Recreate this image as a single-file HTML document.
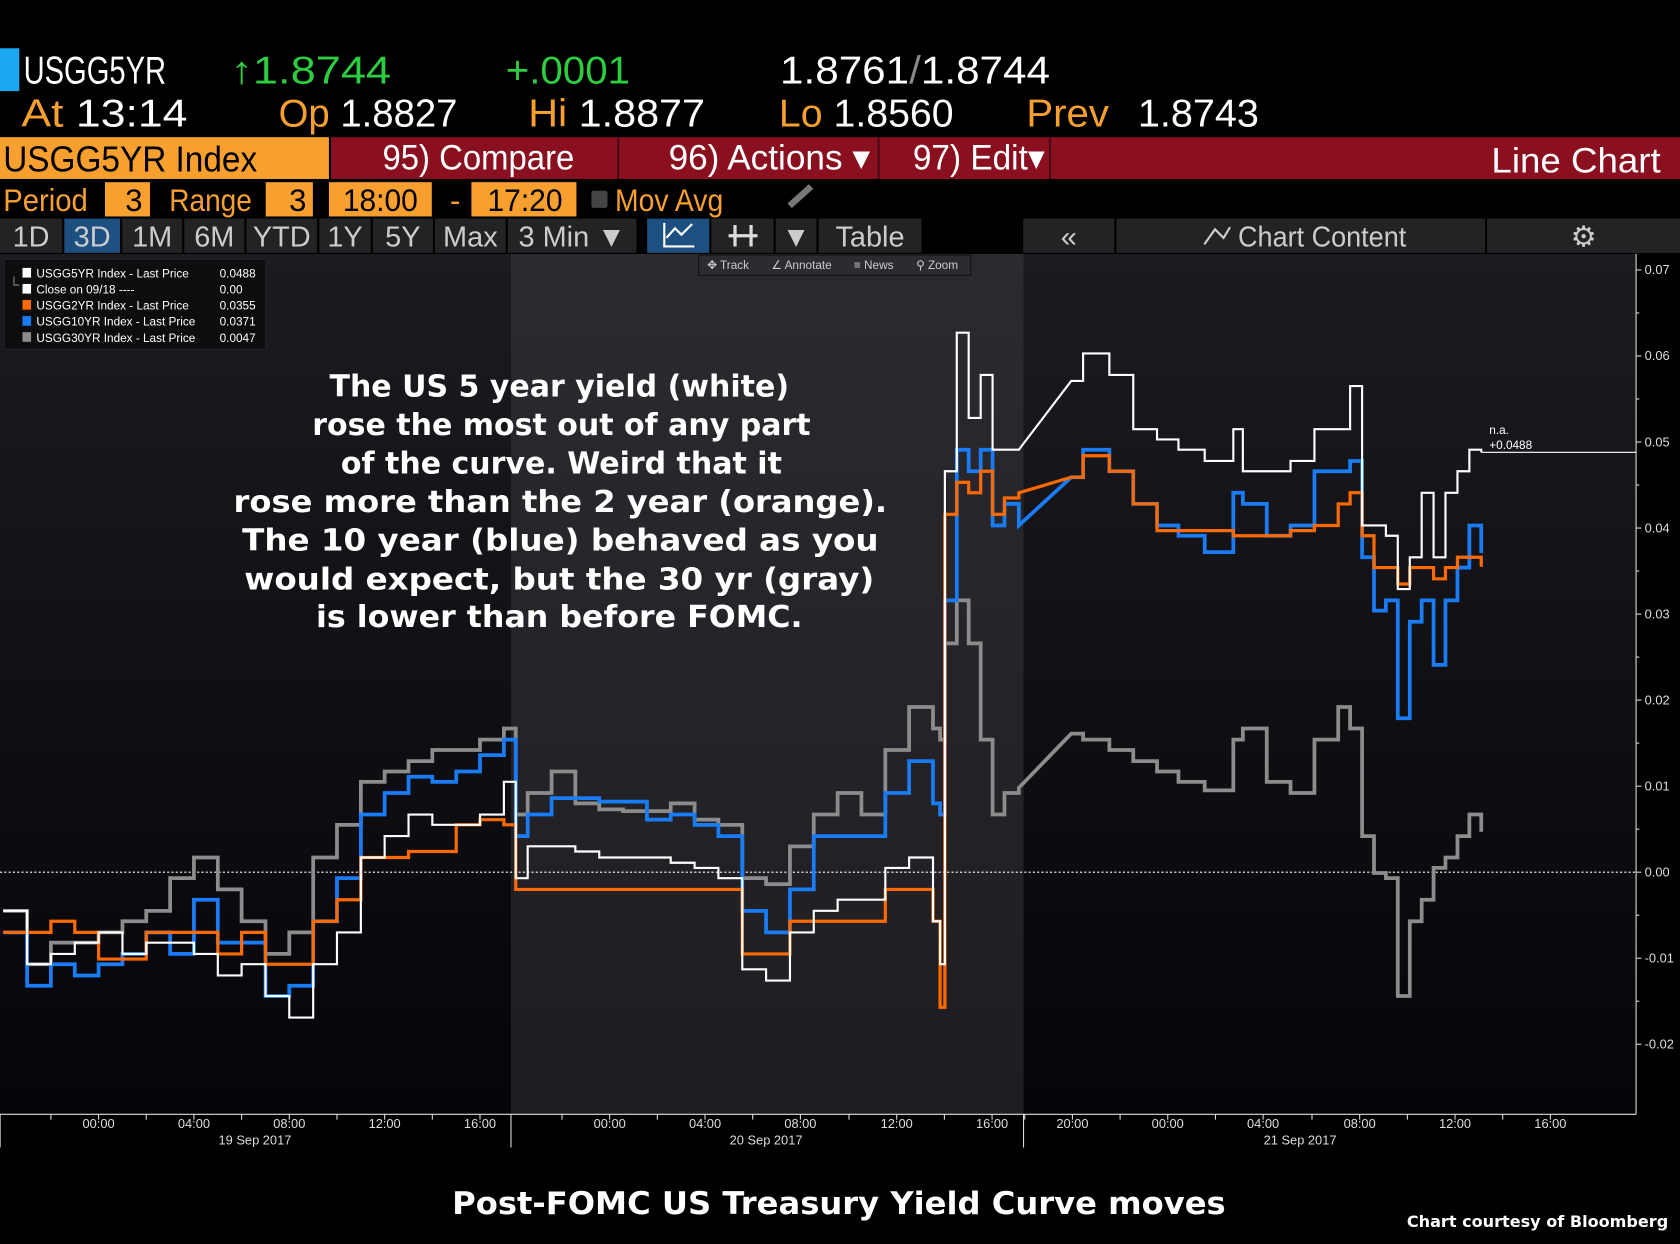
<!DOCTYPE html>
<html><head><meta charset="utf-8"><style>
html,body{margin:0;padding:0;background:#000;}
svg{display:block;}
.n{font-family:"Liberation Sans Narrow","Liberation Sans",sans-serif;}
.b{font-family:"DejaVu Sans","Liberation Sans",sans-serif;font-weight:bold;}
</style></head><body>
<svg id="chart" width="1680" height="1244" viewBox="0 0 1568 1161" xmlns="http://www.w3.org/2000/svg">
<defs>
<linearGradient id="gOut" x1="0" y1="0" x2="0" y2="1"><stop offset="0" stop-color="#1c1b20"/><stop offset="1" stop-color="#050408"/></linearGradient>
<linearGradient id="gMid" x1="0" y1="0" x2="0" y2="1"><stop offset="0" stop-color="#2b2a2f"/><stop offset="1" stop-color="#1e1d22"/></linearGradient>
</defs>
<rect x="0" y="0" width="1568" height="1161" fill="#000"/>
<g class="n" lengthAdjust="spacingAndGlyphs">
<rect x="0" y="45" width="18" height="40" fill="#1aa9f0"/>
<text x="22" y="78" font-size="36" fill="#fff" textLength="133" lengthAdjust="spacingAndGlyphs">USGG5YR</text>
<text x="215" y="78" font-size="36" fill="#2ecc40" textLength="150" lengthAdjust="spacingAndGlyphs">↑1.8744</text>
<text x="472" y="78" font-size="36" fill="#2ecc40" textLength="116" lengthAdjust="spacingAndGlyphs">+.0001</text>
<text x="728" y="78" font-size="36" fill="#fff" textLength="252" lengthAdjust="spacingAndGlyphs">1.8761<tspan fill="#888">/</tspan>1.8744</text>
<text x="20" y="118" font-size="36" fill="#f7a030" textLength="155" lengthAdjust="spacingAndGlyphs">At <tspan fill="#fff">13:14</tspan></text>
<text x="260" y="118" font-size="36" fill="#f7a030" textLength="167" lengthAdjust="spacingAndGlyphs">Op <tspan fill="#fff">1.8827</tspan></text>
<text x="493" y="118" font-size="36" fill="#f7a030" textLength="165" lengthAdjust="spacingAndGlyphs">Hi <tspan fill="#fff">1.8877</tspan></text>
<text x="727" y="118" font-size="36" fill="#f7a030" textLength="163" lengthAdjust="spacingAndGlyphs">Lo <tspan fill="#fff">1.8560</tspan></text>
<text x="958" y="118" font-size="36" fill="#f7a030" textLength="77" lengthAdjust="spacingAndGlyphs">Prev</text>
<text x="1062" y="118" font-size="36" fill="#fff" textLength="113" lengthAdjust="spacingAndGlyphs">1.8743</text>
</g>
<g class="n">
<rect x="0" y="128" width="307" height="39" fill="#f7a030"/>
<text x="3" y="160" font-size="34" fill="#000" textLength="237" lengthAdjust="spacingAndGlyphs">USGG5YR Index</text>
<rect x="309" y="128" width="1259" height="39" fill="#8a1020"/>
<line x1="577" y1="128" x2="577" y2="167" stroke="#4a0810" stroke-width="2"/>
<line x1="820" y1="128" x2="820" y2="167" stroke="#4a0810" stroke-width="2"/>
<line x1="980" y1="128" x2="980" y2="167" stroke="#4a0810" stroke-width="2"/>
<text x="357" y="158" font-size="33" fill="#fff" textLength="179" lengthAdjust="spacingAndGlyphs">95) Compare</text>
<text x="624" y="158" font-size="33" fill="#fff" textLength="188" lengthAdjust="spacingAndGlyphs">96) Actions ▾</text>
<text x="852" y="158" font-size="33" fill="#fff" textLength="123" lengthAdjust="spacingAndGlyphs">97) Edit▾</text>
<text x="1392" y="161" font-size="33" fill="#fff" textLength="158" lengthAdjust="spacingAndGlyphs">Line Chart</text>
</g>
<g class="n" font-size="29">
<text x="3" y="197" fill="#f7a030" textLength="79" lengthAdjust="spacingAndGlyphs">Period</text>
<rect x="98" y="170" width="42" height="32" fill="#f7a030"/>
<text x="133" y="197" fill="#000" text-anchor="end">3</text>
<text x="158" y="197" fill="#f7a030" textLength="77" lengthAdjust="spacingAndGlyphs">Range</text>
<rect x="248" y="170" width="44" height="32" fill="#f7a030"/>
<text x="286" y="197" fill="#000" text-anchor="end">3</text>
<rect x="307" y="170" width="96" height="32" fill="#f7a030"/>
<text x="320" y="197" fill="#000" textLength="70" lengthAdjust="spacingAndGlyphs">18:00</text>
<text x="420" y="197" fill="#f7a030">-</text>
<rect x="440" y="170" width="98" height="32" fill="#f7a030"/>
<text x="455" y="197" fill="#000" textLength="70" lengthAdjust="spacingAndGlyphs">17:20</text>
<rect x="552" y="178" width="15" height="16" fill="#444" rx="2"/>
<text x="574" y="197" fill="#f7a030" textLength="101" lengthAdjust="spacingAndGlyphs">Mov Avg</text>
<line x1="737" y1="192" x2="757" y2="174" stroke="#777" stroke-width="6"/>
</g>
<g class="n" font-size="27" fill="#ccc" id="toolbar"></g>
<g id="plot"></g>
<g class="b" font-size="28" fill="#fff" text-anchor="middle">
<text x="522" y="370">The US 5 year yield (white)</text>
<text x="524" y="406">rose the most out of any part</text>
<text x="524" y="442">of the curve.  Weird that it</text>
<text x="523" y="478" textLength="610" lengthAdjust="spacingAndGlyphs">rose more than the 2 year (orange).</text>
<text x="523" y="514" textLength="594" lengthAdjust="spacingAndGlyphs">The 10 year (blue) behaved as you</text>
<text x="522" y="550" textLength="588" lengthAdjust="spacingAndGlyphs">would expect, but the 30 yr (gray)</text>
<text x="522" y="585" textLength="454" lengthAdjust="spacingAndGlyphs">is lower than before FOMC.</text>
</g>
<text class="b" x="783" y="1133" font-size="29" fill="#fff" text-anchor="middle" textLength="722" lengthAdjust="spacingAndGlyphs">Post-FOMC US Treasury Yield Curve moves</text>
<text class="b" x="1557" y="1145" font-size="15" fill="#fff" text-anchor="end">Chart courtesy of Bloomberg</text>
</svg>
<script>
const times=[-4,-3,-2,-1,0,1,2,3,4,5,6,7,8,9,10,11,12,13,14,15,16,17,17.5,18,19,20,21,22,23,24,25,26,27,28,29,30,31,32,33,34,35,35.3,35.5,36,36.5,37,37.5,38,38.6,40.8,41.3,42.4,43.4,44.4,45.3,46.4,47.6,48,49,50,51,52,52.5,53,53.5,54,54.5,55,55.5,56,56.5,57,57.5,58];
// values in units of 0.0001 (change since 09/18 close)
const usgg30yr=[-45,-107,-82,-82,-70,-57,-45,-7,17,-20,-57,-95,-70,17,55,105,117,129,142,142,154,167,67,92,117,80,73,71,71,80,61,55,-7,-14,30,67,92,67,142,192,167,154,266,316,266,154,67,92,98,161,154,142,129,117,105,95,154,167,105,92,154,192,167,42,-1,-7,-144,-57,-32,5,17,42,67,47];
const usgg10yr=[-70,-132,-107,-120,-107,-95,-70,-95,-32,-82,-82,-144,-132,-57,-7,67,92,111,105,117,136,154,42,67,86,86,82,82,61,67,55,42,-45,-70,-20,42,42,42,92,129,80,67,316,491,466,491,403,428,403,459,491,466,428,403,391,372,441,428,391,403,466,466,478,366,304,316,179,291,316,241,316,354,403,371];
const usgg2yr=[-70,-70,-57,-70,-101,-101,-70,-70,-70,-95,-70,-107,-107,-57,-32,17,17,24,24,55,61,55,-20,-20,-20,-20,-20,-20,-20,-20,-20,-20,-95,-95,-57,-57,-57,-57,-20,-20,-57,-157,416,453,441,466,416,435,441,459,484,466,428,397,397,397,391,391,391,397,403,428,441,391,354,354,335,354,354,341,354,366,366,355];
const usgg5yr=[-45,-107,-95,-82,-70,-95,-82,-82,-95,-120,-107,-144,-169,-107,-70,17,42,67,55,55,67,105,-7,30,30,24,17,17,17,11,5,-7,-113,-126,-70,-45,-32,-32,5,17,-57,-107,466,627,528,578,491,491,491,571,603,578,515,503,491,478,515,466,466,478,515,515,565,403,403,391,329,366,441,366,441,466,491,488];
const yTicks=[-200,-100,0,100,200,300,400,500,600,700];
const yTickLabels=["-0.02","-0.01","0.00","0.01","0.02","0.03","0.04","0.05","0.06","0.07"];
const xTicks=[0,4,8,12,16,21.44,25.44,29.44,33.48,37.48,40.85,44.85,48.85,52.9,56.9,60.9];
const xTickLabels=["00:00","04:00","08:00","12:00","16:00","00:00","04:00","08:00","12:00","16:00","20:00","00:00","04:00","08:00","12:00","16:00"];
const dayBounds=[-4.13,17.3,38.8];
const dateLabelPos=[6.56,28,50.4];
const dateLabels=["19 Sep 2017","20 Sep 2017","21 Sep 2017"];
const legendNames=["USGG5YR Index - Last Price","Close on 09/18 ----","USGG2YR Index - Last Price","USGG10YR Index - Last Price","USGG30YR Index - Last Price"];
const legendValues=["0.0488","0.00","0.0355","0.0371","0.0047"];

const NS="http://www.w3.org/2000/svg";
const X=t=>92+22.25*t;
const Y=v=>814-v*0.803;
function mk(tag,attrs,parent,txt){const e=document.createElementNS(NS,tag);for(const k in attrs)e.setAttribute(k,attrs[k]);if(txt!==undefined)e.textContent=txt;parent.appendChild(e);return e;}
const plot=document.getElementById('plot');
let bg=mk('rect',{x:0,y:237,width:1527,height:803,fill:'url(#gOut)'},plot);


let sh=mk('rect',{x:X(dayBounds[1]),y:237,width:X(dayBounds[2])-X(dayBounds[1]),height:803,fill:'url(#gMid)'},plot);


mk('line',{x1:1527,y1:237,x2:1527,y2:1040,stroke:'#ddd','stroke-width':1},plot);
yTicks.forEach((v,i)=>{
  mk('line',{x1:1527,y1:Y(v),x2:1532,y2:Y(v),stroke:'#ddd'},plot);
  const t=mk('text',{x:1535,y:Y(v)+4,fill:'#ddd','font-size':12,class:'n'},plot,yTickLabels[i]);
  
  
  if(i<yTicks.length-1){const m=(v+yTicks[i+1])/2;mk('line',{x1:1527,y1:Y(m),x2:1530,y2:Y(m),stroke:'#ddd'},plot);}
});
mk('line',{x1:0,y1:1040,x2:1527,y2:1040,stroke:'#ddd'},plot);
xTicks.forEach((t,i)=>{
  mk('line',{x1:X(t),y1:1040,x2:X(t),y2:1045,stroke:'#ddd'},plot);
  mk('line',{x1:X(t)-44.5,y1:1040,x2:X(t)-44.5,y2:1045,stroke:'#ddd'},plot);
  const l=mk('text',{x:X(t),y:1053,fill:'#ddd','font-size':12,class:'n','text-anchor':'middle'},plot,xTickLabels[i]);
  
  
});
dayBounds.forEach(t=>{mk('line',{x1:X(t),y1:1040,x2:X(t),y2:1071,stroke:'#ddd'},plot);});
dateLabels.forEach((d,i)=>{
  const l=mk('text',{x:X(dateLabelPos[i]),y:1068,fill:'#ddd','font-size':12,class:'n','text-anchor':'middle'},plot,d);
  
  
});
const cl=mk('line',{x1:0,y1:Y(0),x2:1527,y2:Y(0),stroke:'#fff','stroke-dasharray':'2,2','stroke-width':1},plot);


function series(vals,color,w,name){
  let d='';
  vals.forEach((v,i)=>{
    const x=X(times[i]).toFixed(1),y=Y(v).toFixed(1);
    if(i===0)d+='M'+x+' '+y;
    else{
      if(times[i]-times[i-1]>1.5)d+=' L'+x+' '+y;
      else d+=' H'+x+' V'+y;
    }
  });
  const p=mk('path',{d:d,fill:'none',stroke:color,'stroke-width':w,'stroke-linejoin':'miter'},plot);
  
  
}
series(usgg30yr,'#8c8c8c',3.5,'usgg30yr-line');
series(usgg10yr,'#1a7cf5',3.5,'usgg10yr-line');
series(usgg2yr,'#ff6a00',3,'usgg2yr-line');
series(usgg5yr,'#ffffff',2,'usgg5yr-line');
const last=usgg5yr[usgg5yr.length-1];
const ll=mk('line',{x1:X(times[times.length-1]),y1:Y(last),x2:1527,y2:Y(last),stroke:'#fff','stroke-width':1},plot);


mk('text',{x:1390,y:Y(last)-17,fill:'#fff','font-size':11,class:'n'},plot,'n.a.');
const lv=mk('text',{x:1390,y:Y(last)-3,fill:'#fff','font-size':11,class:'n'},plot,'+'+(last/10000).toFixed(4));


const tb=mk('g',{},plot);


mk('rect',{x:652,y:238,width:254,height:19,fill:'#2c2c30',stroke:'#111'},tb);
[['✥ Track',660],['∠ Annotate',720],['≡ News',797],['⚲ Zoom',855]].forEach(([s,x])=>{
  const t=mk('text',{x:x,y:251,fill:'#ccc','font-size':11,class:'n'},tb,s);
  
  
});
const lg=mk('g',{},plot);


mk('rect',{x:4,y:242,width:244,height:84,fill:'#0d0d10',stroke:'#222',rx:2},lg);
const lc=['#fff','#fff','#ff6a00','#1a7cf5','#8c8c8c'];
legendNames.forEach((n,i)=>{
  const y=256+i*15;
  const e=mk('g',{},lg);
  
  
  mk('rect',{x:21,y:y-6,width:8,height:9,fill:lc[i]},e);
  mk('text',{x:34,y:y+3,fill:'#fff','font-size':11,class:'n'},e,n);
  mk('text',{x:205,y:y+3,fill:'#fff','font-size':11,class:'n'},e,legendValues[i]);
});
mk('path',{d:'M13 258 V266 H18',fill:'none',stroke:'#888'},lg);
const tbar=document.getElementById('toolbar');
const btns=[['1D',0,58],['3D',60,112,1],['1M',114,170],['6M',172,228],['YTD',230,296],['1Y',298,346],['5Y',348,404],['Max',406,472],['3 Min ▼',474,594],['',604,662,1],['',664,722],['▼',724,762],['Table',764,860],['«',955,1040],['Chart Content',1042,1386],['⚙',1388,1568]];
btns.forEach(b=>{
  const g=mk('g',{},tbar);
  
  
  mk('rect',{x:b[1],y:204,width:b[2]-b[1],height:32,fill:b[3]?'#1d4f80':'#232326'},g);
  const t=mk('text',{x:(b[1]+b[2])/2+(b[0]==='Chart Content'?20:0),y:230,'text-anchor':'middle',fill:'#ccc'},g,b[0]);
  if(b[0]==='Chart Content'){t.setAttribute('textLength','157');t.setAttribute('lengthAdjust','spacingAndGlyphs');}
});
mk('path',{d:'M620 208 V230 H648 M622 222 L630 213 L636 219 L646 209',fill:'none',stroke:'#fff','stroke-width':2},tbar);
mk('path',{d:'M686 210 V230 M701 210 V230 M680 220 H707',fill:'none',stroke:'#ddd','stroke-width':3},tbar);
mk('path',{d:'M1124 228 L1134 214 L1142 222 L1148 212',fill:'none',stroke:'#ccc','stroke-width':2},tbar);
</script>
</body></html>
